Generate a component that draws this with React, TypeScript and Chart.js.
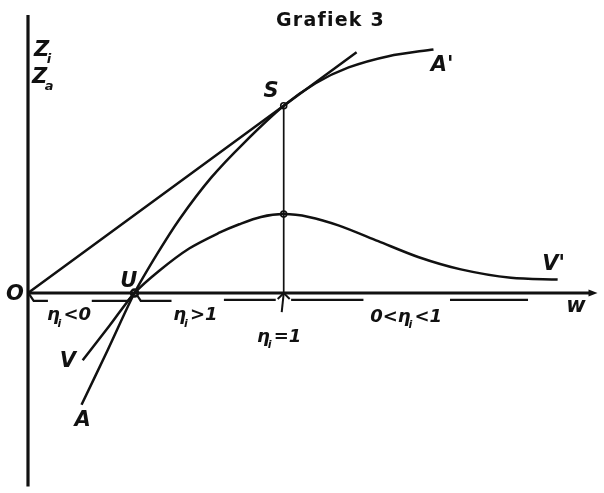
import React, { useEffect, useRef } from "react";
import { Chart, registerables } from "chart.js";

Chart.register(...registerables);

// ---- data (chart units, same unit on both axes) ----
const X_MIN = 0;
const X_MAX = 10;
const Y_MIN = -3.43;
const Y_MAX = 4.93;

// curve A ... A'
const curveAX = [0.94, 1.4, 1.87, 2.26, 2.66, 3.22, 3.79, 4.49, 5.05, 5.63, 6.33, 7.12];
const curveAY = [-1.98, -1.01, 0, 0.68, 1.31, 2.05, 2.66, 3.32, 3.72, 4.0, 4.2, 4.32];

// curve V ... V'
const curveVX = [0.96, 1.43, 1.87, 2.31, 2.83, 3.36, 3.71, 4.09, 4.49, 4.93, 5.45, 6.15, 6.85, 7.6, 8.48, 9.3];
const curveVY = [-1.19, -0.58, 0, 0.4, 0.79, 1.07, 1.22, 1.35, 1.4, 1.35, 1.2, 0.92, 0.64, 0.42, 0.27, 0.24];

// tangent line from O through S
const tangentX = [0, 4.49, 5.77];
const tangentY = [0, 3.32, 4.27];

// special points
const pointNames = ["S", "top", "U", "T"];
const pointX = [4.49, 4.49, 1.87, 4.49];
const pointY = [3.32, 1.4, 0, 0];

// range brackets under the W axis
const bracketX = [
  [0.02, 0.1, 0.35],
  [1.12, 1.75, 1.84],
  [1.91, 1.98, 2.52],
  [3.44, 4.35],
  [4.62, 5.89],
  [7.41, 8.78],
];
const bracketY = [
  [-0.02, -0.14, -0.14],
  [-0.14, -0.14, -0.03],
  [-0.03, -0.14, -0.14],
  [-0.12, -0.12],
  [-0.12, -0.12],
  [-0.12, -0.12],
];

// text labels ("_x" = subscript x)
const labelText = ["Grafiek 3", "Z_i", "Z_a", "S", "A'", "O", "U", "V'", "w", "V", "A", "η_i<0", "η_i>1", "η_i=1", "0<η_i<1"];
const labelX = [5.3, 0.28, 0.28, 4.27, 7.27, -0.23, 1.77, 9.23, 9.62, 0.7, 0.96, 0.72, 2.94, 4.41, 6.64];
const labelY = [4.83, 4.3, 3.82, 3.57, 4.04, -0.02, 0.21, 0.51, -0.24, -1.21, -2.26, -0.4, -0.4, -0.78, -0.43];

const INK = "#111";

const toPts = (xs: number[], ys: number[]) => xs.map((x, i) => ({ x, y: ys[i] }));

function drawRich(ctx: CanvasRenderingContext2D, text: string, cx: number, cy: number, size: number, style: string, spacing = 0) {
  const main = `${style} ${size}px "DejaVu Sans"`;
  const sub = `${style} ${Math.round(size * 0.62)}px "DejaVu Sans"`;
  const parts: { t: string; s: boolean }[] = [];
  for (let i = 0; i < text.length; i++) {
    if (text[i] === "_" && i + 1 < text.length) {
      parts.push({ t: text[i + 1], s: true });
      i++;
    } else parts.push({ t: text[i], s: false });
  }
  let w = 0;
  for (const p of parts) {
    ctx.font = p.s ? sub : main;
    w += ctx.measureText(p.t).width + spacing;
  }
  w -= spacing;
  let x = cx - w / 2;
  ctx.textAlign = "left";
  ctx.textBaseline = "middle";
  for (const p of parts) {
    ctx.font = p.s ? sub : main;
    ctx.fillText(p.t, p.s ? x - size * 0.12 : x, p.s ? cy + size * 0.45 : cy);
    x += ctx.measureText(p.t).width + spacing;
  }
}

const decorPlugin = {
  id: "decor",
  afterDatasetsDraw(chart: any) {
    const { ctx, scales } = chart;
    const sx = scales.x;
    const sy = scales.y;
    ctx.save();
    ctx.fillStyle = INK;
    ctx.strokeStyle = INK;

    // arrow head at end of W axis
    const ax = sx.getPixelForValue(X_MAX);
    const ay = sy.getPixelForValue(0);
    ctx.beginPath();
    ctx.moveTo(ax, ay);
    ctx.lineTo(ax - 9, ay - 3.5);
    ctx.lineTo(ax - 9, ay + 3.5);
    ctx.closePath();
    ctx.fill();

    // T marker (arrow pointing up at T)
    const tx = sx.getPixelForValue(pointX[3]);
    const ty = sy.getPixelForValue(pointY[3]);
    ctx.lineWidth = 2;
    ctx.beginPath();
    ctx.moveTo(tx - 6, ty + 6);
    ctx.lineTo(tx, ty);
    ctx.lineTo(tx + 6, ty + 6);
    ctx.stroke();
    ctx.beginPath();
    ctx.moveTo(tx, ty);
    ctx.lineTo(tx - 2, ty + 19);
    ctx.stroke();

    // labels
    labelText.forEach((t, i) => {
      const px = sx.getPixelForValue(labelX[i]);
      const py = sy.getPixelForValue(labelY[i]);
      if (i === 0) {
        drawRich(ctx, t, px, py, 19, "bold", 1.2);
      } else if (t.startsWith("η") || t.startsWith("0<")) {
        drawRich(ctx, t, px, py, 18, "italic bold", 0);
      } else {
        drawRich(ctx, t, px, py, 21, "italic bold", 0);
      }
    });
    ctx.restore();
  },
};

export default function App() {
  const ref = useRef<HTMLCanvasElement | null>(null);

  useEffect(() => {
    if (!ref.current) return;
    const line = (data: any[], width: number, tension = 0) => ({
      data,
      showLine: true,
      borderColor: INK,
      borderWidth: width,
      pointRadius: 0,
      tension,
      fill: false,
      clip: false as const,
    });

    const datasets: any[] = [
      line([{ x: 0, y: Y_MIN }, { x: 0, y: Y_MAX }], 3.2),
      line([{ x: 0, y: 0 }, { x: X_MAX - 0.1, y: 0 }], 3),
      line(toPts(tangentX, tangentY), 2.5),
      line(toPts(curveAX, curveAY), 2.5, 0.3),
      line(toPts(curveVX, curveVY), 2.5, 0.3),
      line([{ x: pointX[0], y: pointY[0] }, { x: pointX[3], y: pointY[3] }], 1.7),
      ...bracketX.map((bx, i) => line(toPts(bx, bracketY[i]), 2.2)),
      {
        data: toPts(pointX.slice(0, 3), pointY.slice(0, 3)),
        showLine: false,
        pointRadius: [3, 3, 3.5],
        pointBorderWidth: [1.6, 1.6, 2.5],
        pointBackgroundColor: ["#fff", "#fff", "#fff"],
        pointBorderColor: INK,
        clip: false,
      },
    ];

    const chart = new Chart(ref.current, {
      type: "scatter",
      data: { datasets },
      options: {
        responsive: false,
        animation: false,
        layout: { padding: { left: 28, right: 4, top: 15, bottom: 0 } },
        plugins: { legend: { display: false }, tooltip: { enabled: false } },
        scales: {
          x: { type: "linear", min: X_MIN, max: X_MAX, display: false },
          y: { type: "linear", min: Y_MIN, max: Y_MAX, display: false },
        },
      },
      plugins: [decorPlugin],
    });
    return () => chart.destroy();
  }, []);

  return (
    <div style={{ position: "fixed", left: 0, top: 0, width: 604, height: 493, background: "#fff" }}>
      <canvas ref={ref} width={604} height={493} style={{ display: "block", width: 604, height: 493 }} />
    </div>
  );
}
